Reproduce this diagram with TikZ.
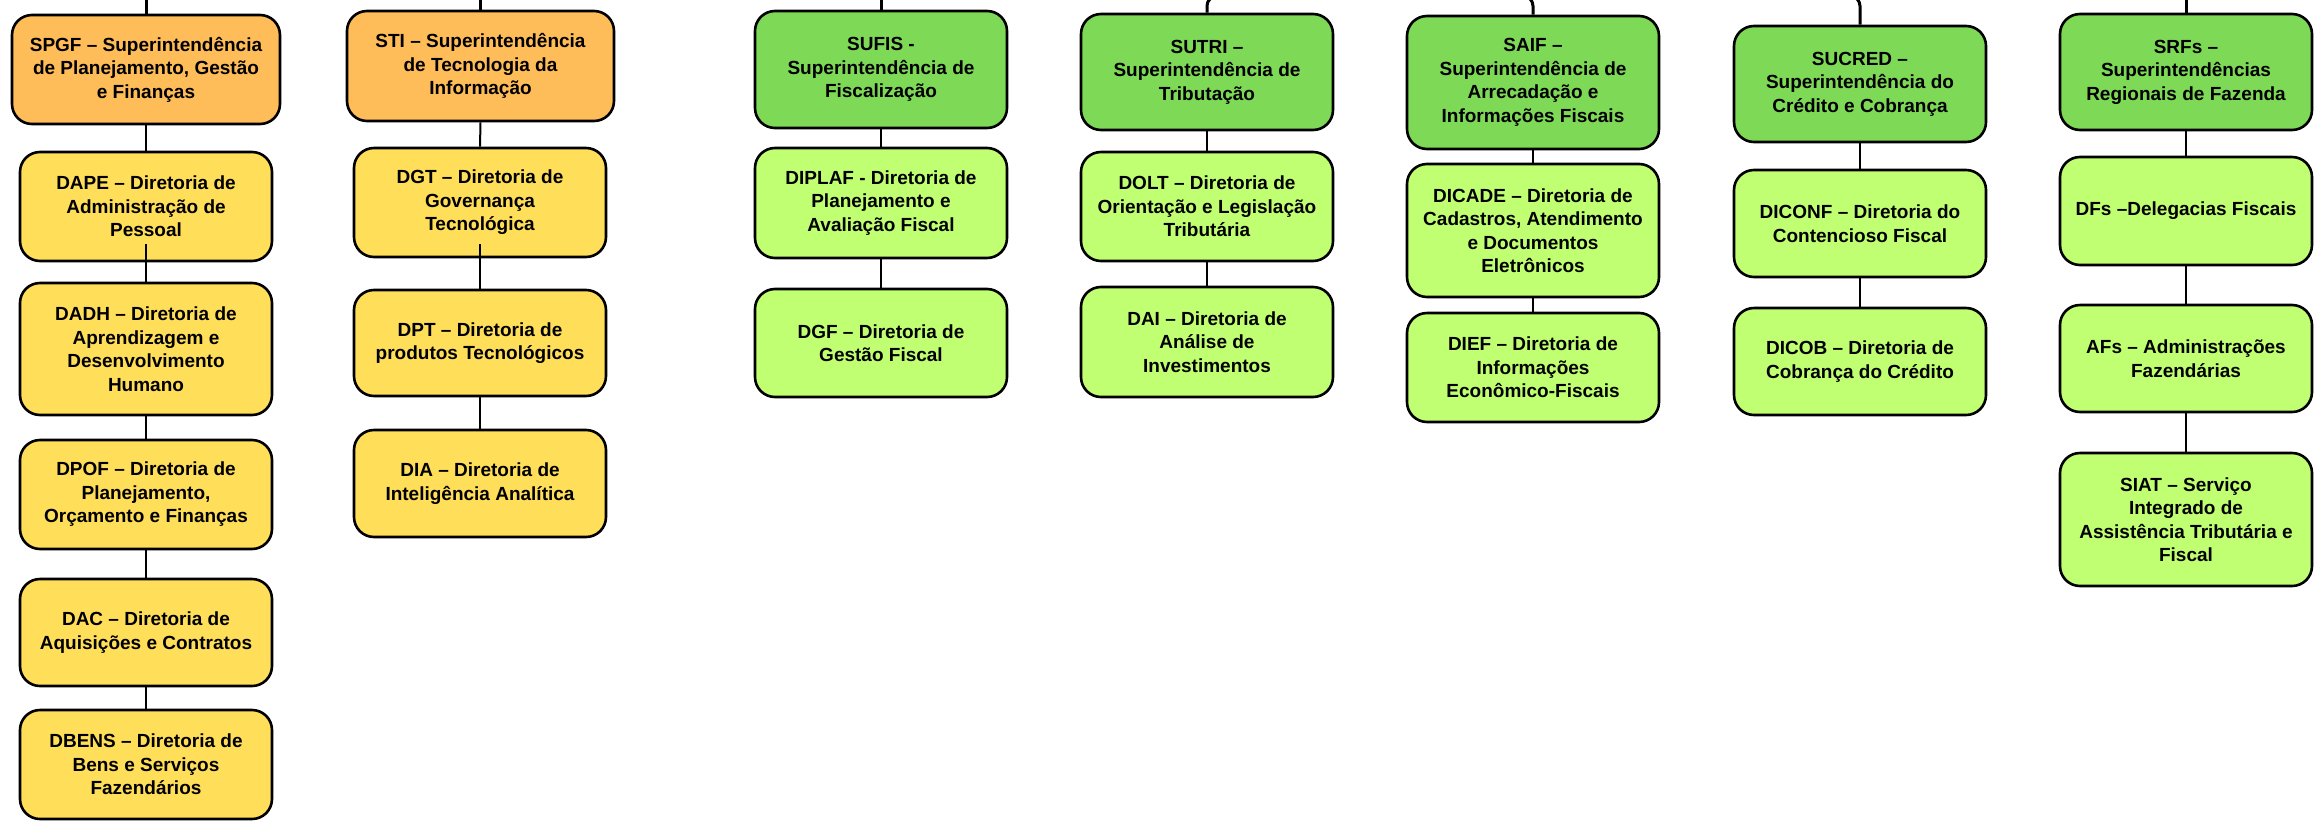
\documentclass[tikz,border=0pt]{standalone}
\usepackage{fontspec}
\setmainfont{Liberation Sans}
\usetikzlibrary{calc}
\definecolor{orng}{HTML}{FFBD59}
\definecolor{yel}{HTML}{FFDE59}
\definecolor{grn}{HTML}{7ED957}
\definecolor{lime}{HTML}{C1FF72}
\tikzset{
  box/.style={draw=black, line width=2.6pt, rounded corners=20pt, align=center,
    inner sep=0pt, text=black, font=\bfseries\fontsize{19}{23.5}\selectfont},
  supO/.style={box, fill=orng},
  dirY/.style={box, fill=yel},
  supG/.style={box, fill=grn},
  dirL/.style={box, fill=lime},
  link/.style={draw=black, line width=2pt},
  stub/.style={draw=black, line width=3pt},
}
\begin{document}
\begin{tikzpicture}[x=1pt, y=-1pt]
\useasboundingbox (0,0) rectangle (2324,822);
\clip (0,0) rectangle (2324,822);
\fill[white] (0,0) rectangle (2324,822);

% column 1
\node[supO, minimum width=268, minimum height=109] (spgf) at (146,69.5) {SPGF – Superintendência\\de Planejamento, Gestão\\e Finanças};
\node[dirY, minimum width=252, minimum height=109] (dape) at (146,206.5) {DAPE – Diretoria de\\Administração de\\Pessoal};
\node[dirY, minimum width=252, minimum height=132] (dadh) at (146,349) {DADH – Diretoria de\\Aprendizagem e\\Desenvolvimento\\Humano};
\node[dirY, minimum width=252, minimum height=109] (dpof) at (146,494.5) {DPOF – Diretoria de\\Planejamento,\\Orçamento e Finanças};
\node[dirY, minimum width=252, minimum height=107] (dac) at (146,632.5) {DAC – Diretoria de\\Aquisições e Contratos};
\node[dirY, minimum width=252, minimum height=109] (dbens) at (146,764.5) {DBENS – Diretoria de\\Bens e Serviços\\Fazendários};

% column 2
\node[supO, minimum width=267, minimum height=110] (sti) at (480.5,66) {STI – Superintendência\\de Tecnologia da\\Informação};
\node[dirY, minimum width=252, minimum height=109] (dgt) at (480,202.5) {DGT – Diretoria de\\Governança\\Tecnológica};
\node[dirY, minimum width=252, minimum height=106] (dpt) at (480,343) {DPT – Diretoria de\\produtos Tecnológicos};
\node[dirY, minimum width=252, minimum height=107] (dia) at (480,483.5) {DIA – Diretoria de\\Inteligência Analítica};

% column 3
\node[supG, minimum width=252, minimum height=117] (sufis) at (881,69.5) {SUFIS -\\Superintendência de\\Fiscalização};
\node[dirL, minimum width=252, minimum height=110] (diplaf) at (881,203) {DIPLAF - Diretoria de\\Planejamento e\\Avaliação Fiscal};
\node[dirL, minimum width=252, minimum height=108] (dgf) at (881,343) {DGF – Diretoria de\\Gestão Fiscal};

% column 4
\node[supG, minimum width=252, minimum height=116] (sutri) at (1207,72) {SUTRI –\\Superintendência de\\Tributação};
\node[dirL, minimum width=252, minimum height=109] (dolt) at (1207,206.5) {DOLT – Diretoria de\\Orientação e Legislação\\Tributária};
\node[dirL, minimum width=252, minimum height=110] (dai) at (1207,342) {DAI – Diretoria de\\Análise de\\Investimentos};

% column 5
\node[supG, minimum width=252, minimum height=133] (saif) at (1533,82.5) {SAIF –\\Superintendência de\\Arrecadação e\\Informações Fiscais};
\node[dirL, minimum width=252, minimum height=133] (dicade) at (1533,230.5) {DICADE – Diretoria de\\Cadastros, Atendimento\\e Documentos\\Eletrônicos};
\node[dirL, minimum width=252, minimum height=109] (dief) at (1533,367.5) {DIEF – Diretoria de\\Informações\\Econômico-Fiscais};

% column 6
\node[supG, minimum width=252, minimum height=116] (sucred) at (1860,84) {SUCRED –\\Superintendência do\\Crédito e Cobrança};
\node[dirL, minimum width=252, minimum height=107] (diconf) at (1860,223.5) {DICONF – Diretoria do\\Contencioso Fiscal};
\node[dirL, minimum width=252, minimum height=107] (dicob) at (1860,361.5) {DICOB – Diretoria de\\Cobrança do Crédito};

% column 7
\node[supG, minimum width=252, minimum height=116] (srfs) at (2186,72) {SRFs –\\Superintendências\\Regionais de Fazenda};
\node[dirL, minimum width=252, minimum height=108] (dfs) at (2186,211) {DFs –Delegacias Fiscais};
\node[dirL, minimum width=252, minimum height=107] (afs) at (2186,358.5) {AFs – Administrações\\Fazendárias};
\node[dirL, minimum width=252, minimum height=133] (siat) at (2186,519.5) {SIAT – Serviço\\Integrado de\\Assistência Tributária e\\Fiscal};

% stubs from the cut-off parent connector
\coordinate (t1) at (146,-2);
\coordinate (t2) at (480.5,-2);
\coordinate (t3) at (881,-2);
\coordinate (t4) at (1230,-4);
\coordinate (t5) at (1510,-4);
\coordinate (t6) at (1837,-4);
\coordinate (t7) at (2186,-2);
\draw[stub] (t1) -- (spgf.north);
\draw[stub] (t2) -- (sti.north);
\draw[stub] (t3) -- (sufis.north);
\draw[stub, rounded corners=10pt] (t4) -| (sutri.north);
\draw[stub, rounded corners=10pt] (t5) -| (saif.north);
\draw[stub, rounded corners=10pt] (t6) -| (sucred.north);
\draw[stub] (t7) -- (srfs.north);

% connectors
\draw[link] (spgf.south) -- (dape.north);
\draw[link] ($(dape.south)+(0,-18)$) -- (dadh.north);
\draw[link] (dadh.south) -- (dpof.north);
\draw[link] (dpof.south) -- (dac.north);
\draw[link] (dac.south) -- (dbens.north);

\draw[link] (sti.south) -- (dgt.north);
\draw[link] ($(dgt.south)+(0,-14)$) -- (dpt.north);
\draw[link] (dpt.south) -- (dia.north);

\draw[link] (sufis.south) -- (diplaf.north);
\draw[link] (diplaf.south) -- (dgf.north);

\draw[link] (sutri.south) -- (dolt.north);
\draw[link] (dolt.south) -- (dai.north);

\draw[link] (saif.south) -- (dicade.north);
\draw[link] (dicade.south) -- (dief.north);

\draw[link] (sucred.south) -- (diconf.north);
\draw[link] (diconf.south) -- (dicob.north);

\draw[link] (srfs.south) -- (dfs.north);
\draw[link] (dfs.south) -- (afs.north);
\draw[link] (afs.south) -- (siat.north);
\end{tikzpicture}
\end{document}
